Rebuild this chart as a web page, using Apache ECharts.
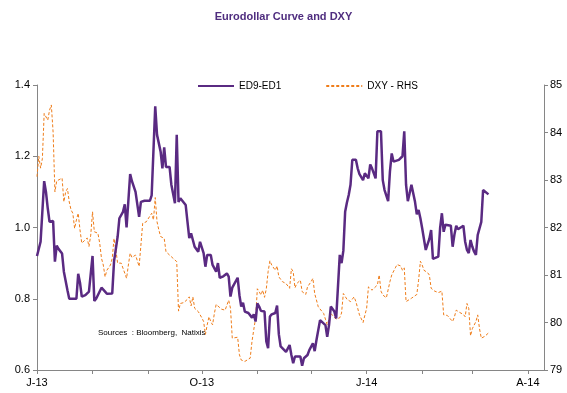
<!DOCTYPE html>
<html><head><meta charset="utf-8">
<script src="https://cdn.jsdelivr.net/npm/echarts@6/dist/echarts.min.js"></script>
<style>html,body{margin:0;padding:0;background:#fff}#c{width:567px;height:393px}</style>
</head><body><div id="c"></div>
<script>
// ED9-ED1 (left axis)
const edDates = ['2013-07-01','2013-07-02','2013-07-03','2013-07-04','2013-07-05','2013-07-06','2013-07-07','2013-07-08','2013-07-09','2013-07-10','2013-07-11','2013-07-12','2013-07-13','2013-07-15','2013-07-16','2013-07-18','2013-07-19','2013-07-21','2013-07-23','2013-07-24','2013-07-25','2013-07-26','2013-07-28','2013-07-30','2013-07-31',
'2013-08-01','2013-08-02','2013-08-03','2013-08-06','2013-08-08','2013-08-09','2013-08-12','2013-08-13','2013-08-14','2013-08-15','2013-08-16','2013-08-18','2013-08-19','2013-08-20','2013-08-22','2013-08-23','2013-08-25','2013-08-27','2013-08-28','2013-08-29','2013-08-30',
'2013-09-02','2013-09-03','2013-09-05','2013-09-06','2013-09-08','2013-09-09','2013-09-10','2013-09-11','2013-09-12','2013-09-13','2013-09-14','2013-09-16','2013-09-17','2013-09-18','2013-09-19','2013-09-20','2013-09-22','2013-09-23','2013-09-24','2013-09-25','2013-09-26','2013-09-27','2013-09-29','2013-09-30',
'2013-10-02','2013-10-03','2013-10-04','2013-10-06','2013-10-07','2013-10-08','2013-10-09','2013-10-10','2013-10-11','2013-10-13','2013-10-15','2013-10-16','2013-10-17','2013-10-18','2013-10-21','2013-10-22','2013-10-23','2013-10-24','2013-10-25','2013-10-27','2013-10-29','2013-10-30','2013-10-31',
'2013-11-01','2013-11-02','2013-11-03','2013-11-05','2013-11-06','2013-11-07','2013-11-08','2013-11-09','2013-11-11','2013-11-12','2013-11-13','2013-11-14','2013-11-15','2013-11-17','2013-11-18','2013-11-19','2013-11-20','2013-11-21','2013-11-22','2013-11-23','2013-11-25','2013-11-26','2013-11-27','2013-11-28','2013-11-29','2013-11-30',
'2013-12-02','2013-12-03','2013-12-04','2013-12-06','2013-12-07','2013-12-09','2013-12-10','2013-12-11','2013-12-12','2013-12-14','2013-12-15','2013-12-16','2013-12-17','2013-12-18','2013-12-19','2013-12-20','2013-12-21','2013-12-22','2013-12-23','2013-12-24','2013-12-26','2013-12-27','2013-12-28','2013-12-30','2013-12-31',
'2014-01-01','2014-01-02','2014-01-03','2014-01-04','2014-01-05','2014-01-06','2014-01-07','2014-01-09','2014-01-10','2014-01-11','2014-01-13','2014-01-14','2014-01-15','2014-01-16','2014-01-17','2014-01-19','2014-01-20','2014-01-21','2014-01-22','2014-01-23','2014-01-24','2014-01-25','2014-01-26','2014-01-28','2014-01-29','2014-01-30','2014-01-31',
'2014-02-01','2014-02-03','2014-02-04','2014-02-05','2014-02-06','2014-02-07','2014-02-08','2014-02-10','2014-02-11','2014-02-12','2014-02-13','2014-02-14','2014-02-15','2014-02-17','2014-02-18','2014-02-19','2014-02-20','2014-02-21','2014-02-22','2014-02-24','2014-02-25','2014-02-26','2014-02-27','2014-02-28',
'2014-03-01','2014-03-02','2014-03-03','2014-03-04','2014-03-05','2014-03-06','2014-03-07','2014-03-08','2014-03-10'];
const edValues = [0.92,0.925,0.96,0.963,1.13,1.10,1.054,1.016,1.013,1.018,0.904,0.949,0.94,0.927,0.876,0.824,0.80,0.80,0.80,0.87,0.845,0.806,0.81,0.82,0.824,
0.92,0.794,0.80,0.831,0.82,0.814,0.815,0.905,0.91,0.974,1.026,1.044,1.065,1.0,1.15,1.13,1.10,1.03,1.072,1.068,1.075,
1.075,1.09,1.34,1.26,1.213,1.166,1.225,1.17,1.175,1.17,1.12,1.068,1.26,1.072,1.082,1.08,1.063,1.016,0.97,0.984,0.965,0.946,0.932,0.96,
0.928,0.89,0.923,0.923,0.895,0.9,0.876,0.9,0.859,0.863,0.871,0.862,0.806,0.831,0.859,0.81,0.778,0.789,0.764,0.76,0.747,0.756,0.736,
0.787,0.778,0.766,0.764,0.68,0.661,0.75,0.756,0.76,0.781,0.70,0.666,0.666,0.651,0.647,0.67,0.642,0.619,0.638,0.638,0.638,0.612,0.633,0.633,0.642,0.656,
0.675,0.653,0.684,0.74,0.736,0.726,0.693,0.726,0.778,0.764,0.745,0.74,0.923,0.9,0.935,1.044,1.07,1.091,1.12,1.19,1.19,1.166,1.15,1.133,1.152,
1.152,1.138,1.177,1.166,1.152,1.138,1.27,1.27,1.133,1.105,1.074,1.157,1.208,1.185,1.19,1.19,1.19,1.20,1.27,1.12,1.074,1.096,1.12,1.072,1.037,1.049,1.026,
0.998,0.937,0.94,0.968,0.993,0.912,0.915,0.918,0.998,1.04,0.988,1.008,1.005,1.005,0.946,0.98,1.005,0.995,1.0,1.005,0.96,0.937,0.928,0.965,
0.946,0.932,0.923,0.979,0.984,1.016,1.105,1.103,1.093];

// DXY (right axis)
const dxyDates = ['2013-07-01','2013-07-02','2013-07-03','2013-07-04','2013-07-05','2013-07-06','2013-07-07','2013-07-08','2013-07-09','2013-07-10','2013-07-11','2013-07-12','2013-07-13','2013-07-15','2013-07-16','2013-07-17','2013-07-18','2013-07-19','2013-07-20','2013-07-21','2013-07-22','2013-07-23','2013-07-24','2013-07-25','2013-07-26','2013-07-27','2013-07-29','2013-07-30','2013-07-31',
'2013-08-01','2013-08-02','2013-08-03','2013-08-04','2013-08-05','2013-08-06','2013-08-07','2013-08-08','2013-08-09','2013-08-11','2013-08-12','2013-08-13','2013-08-14','2013-08-15','2013-08-17','2013-08-18','2013-08-20','2013-08-21','2013-08-22','2013-08-23','2013-08-24','2013-08-25','2013-08-27','2013-08-28','2013-08-29','2013-08-31',
'2013-09-01','2013-09-03','2013-09-04','2013-09-05','2013-09-06','2013-09-07','2013-09-08','2013-09-10','2013-09-11','2013-09-13','2013-09-14','2013-09-15','2013-09-17','2013-09-18','2013-09-19','2013-09-21','2013-09-23','2013-09-24','2013-09-25','2013-09-26','2013-09-27','2013-09-29','2013-09-30',
'2013-10-01','2013-10-02','2013-10-03','2013-10-04','2013-10-05','2013-10-06','2013-10-07','2013-10-08','2013-10-09','2013-10-10','2013-10-12','2013-10-13','2013-10-14','2013-10-15','2013-10-16','2013-10-17','2013-10-18','2013-10-19','2013-10-21','2013-10-22','2013-10-23','2013-10-25','2013-10-26','2013-10-28','2013-10-29','2013-10-30','2013-10-31',
'2013-11-01','2013-11-02','2013-11-03','2013-11-04','2013-11-05','2013-11-06','2013-11-07','2013-11-08','2013-11-09','2013-11-11','2013-11-12','2013-11-13','2013-11-14','2013-11-15','2013-11-17','2013-11-19','2013-11-20','2013-11-21','2013-11-22','2013-11-23','2013-11-25','2013-11-26','2013-11-27','2013-11-28','2013-11-29',
'2013-12-01','2013-12-02','2013-12-03','2013-12-04','2013-12-05','2013-12-06','2013-12-08','2013-12-09','2013-12-10','2013-12-11','2013-12-12','2013-12-13','2013-12-15','2013-12-16','2013-12-17','2013-12-18','2013-12-19','2013-12-20','2013-12-21','2013-12-23','2013-12-25','2013-12-26','2013-12-27','2013-12-28','2013-12-30','2013-12-31',
'2014-01-01','2014-01-02','2014-01-04','2014-01-05','2014-01-07','2014-01-08','2014-01-09','2014-01-10','2014-01-12','2014-01-14','2014-01-15','2014-01-16','2014-01-17','2014-01-18','2014-01-20','2014-01-21','2014-01-22','2014-01-23','2014-01-24','2014-01-26','2014-01-27','2014-01-29','2014-01-30','2014-01-31',
'2014-02-01','2014-02-02','2014-02-04','2014-02-05','2014-02-06','2014-02-08','2014-02-10','2014-02-12','2014-02-13','2014-02-15','2014-02-16','2014-02-18','2014-02-19','2014-02-20','2014-02-22','2014-02-24','2014-02-25','2014-02-26','2014-02-27','2014-02-28',
'2014-03-01','2014-03-03','2014-03-04','2014-03-05','2014-03-06','2014-03-08','2014-03-09','2014-03-10'];
const dxyValues = [83.07,83.5,83.25,83.45,84.4,84.37,84.26,84.47,84.58,84.0,82.75,82.98,83.0,83.04,82.54,82.75,82.82,82.54,82.37,82.3,81.98,82.16,82.3,81.95,81.67,81.67,81.78,81.6,81.84,
82.33,81.91,81.91,81.88,81.67,81.35,81.21,80.96,81.1,81.21,81.35,81.77,81.53,81.25,81.25,81.21,80.93,81.21,81.46,81.37,81.39,81.42,81.18,81.63,82.09,82.12,
82.1,82.3,82.16,82.63,82.12,81.95,81.81,81.77,81.49,81.42,81.42,81.35,81.28,80.24,80.4,80.42,80.49,80.54,80.35,80.54,80.3,80.23,80.19,
80.1,80.02,79.75,79.95,80.12,80.02,79.95,80.19,80.38,80.35,80.28,80.3,80.26,80.3,80.47,80.3,79.67,79.67,79.69,79.32,79.21,79.18,79.21,79.25,79.6,79.85,80.09,
80.71,80.65,80.58,80.68,80.53,80.71,81.07,81.3,81.21,81.1,81.19,80.96,81.0,80.86,80.82,80.72,81.13,81.07,80.73,80.82,80.89,80.65,80.68,80.59,80.75,
80.86,80.93,80.61,80.59,80.33,80.3,80.19,80.07,79.95,80.07,80.19,80.16,80.07,80.07,80.1,80.2,80.61,80.58,80.49,80.44,80.54,80.44,80.3,80.16,80.0,80.02,
80.3,80.75,80.68,80.65,80.79,81.0,80.66,80.58,80.52,80.86,81.0,80.96,81.15,81.22,81.19,81.1,81.15,80.44,80.45,80.51,80.54,80.59,80.89,81.29,
81.21,81.1,81.05,81.0,80.72,80.66,80.63,80.66,80.16,80.15,80.16,80.02,80.12,80.26,80.21,80.17,80.12,80.4,80.3,79.72,
79.87,80.02,80.16,79.87,79.67,79.71,79.74,79.78];

const seriesNames = ['ED9-ED1', 'DXY - RHS'];
const monthInitials = ['J','F','M','A','M','J','J','A','S','O','N','D'];
const labelMonths = [1, 4, 7, 10];
const axisStart = '2013-07-01';
const axisEnd = '2014-04-10';

const DAY = 86400000;
function toUTC(s){ const p = s.split('-').map(Number); return Date.UTC(p[0], p[1]-1, p[2]); }
const t0 = toUTC(axisStart), t1 = toUTC(axisEnd);
const categories = [];
for (let t = t0; t <= t1; t += DAY) categories.push(new Date(t).toISOString().slice(0,10));
const idx = s => Math.round((toUTC(s) - t0) / DAY);
const edData = edDates.map((s,i) => [idx(s), edValues[i]]);
const dxyData = dxyDates.map((s,i) => [idx(s), dxyValues[i]]);

const FONT = 'Liberation Sans, Arial, sans-serif';
const axisGray = '#868686';
const chart = echarts.init(document.getElementById('c'), null, {renderer:'canvas'});
chart.setOption({
  animation: false,
  backgroundColor: '#fff',
  title: {
    text: 'Eurodollar Curve and DXY', left: 'center', top: 6,
    textStyle: { fontFamily: FONT, fontSize: 11, fontWeight: 'bold', color: '#4f2d7f' }
  },
  legend: {
    data: seriesNames, left: 192, top: 76, itemWidth: 36, itemHeight: 10, itemGap: 44,
    itemStyle: { opacity: 0 },
    textStyle: { fontFamily: FONT, fontSize: 10, color: '#000' }
  },
  graphic: [{
    type: 'text', left: 98, top: 329,
    style: { text: 'Sources  : Bloomberg,  Natixis', font: '8px Liberation Sans, Arial, sans-serif', fill: '#000' }
  }],
  grid: { left: 37, right: 23, top: 85, bottom: 23, containLabel: false },
  xAxis: {
    type: 'category', data: categories, boundaryGap: false,
    axisLine: { lineStyle: { color: axisGray, width: 1 } },
    axisTick: { length: 4, lineStyle: { color: axisGray }, interval: (i, v) => v.slice(8) === '01' },
    axisLabel: {
      interval: (i, v) => v.slice(8) === '01' && labelMonths.includes(+v.slice(5,7)),
      formatter: v => monthInitials[+v.slice(5,7)-1] + '-' + v.slice(2,4),
      fontFamily: FONT, fontSize: 11, color: '#000', margin: 7
    },
    splitLine: { show: false }
  },
  yAxis: [{
    type: 'value', min: 0.6, max: 1.4, interval: 0.2, position: 'left',
    axisLine: { show: true, lineStyle: { color: axisGray } },
    axisTick: { show: true, length: 4, lineStyle: { color: axisGray } },
    axisLabel: { formatter: v => v.toFixed(1), fontFamily: FONT, fontSize: 11, color: '#000', margin: 7 },
    splitLine: { show: false }
  }, {
    type: 'value', min: 79, max: 85, interval: 1, position: 'right',
    axisLine: { show: true, lineStyle: { color: axisGray } },
    axisTick: { show: true, length: 4, lineStyle: { color: axisGray } },
    axisLabel: { fontFamily: FONT, fontSize: 11, color: '#000', margin: 6 },
    splitLine: { show: false }
  }],
  series: [{
    name: seriesNames[1], type: 'line', yAxisIndex: 1, data: dxyData, symbol: 'none',
    lineStyle: { color: '#ef7d1a', width: 1, type: [3, 2] }, itemStyle: { color: '#ef7d1a' }
  }, {
    name: seriesNames[0], type: 'line', yAxisIndex: 0, data: edData, symbol: 'none',
    lineStyle: { color: '#5a2a82', width: 2.5 }, itemStyle: { color: '#5a2a82' }
  }]
});
</script></body></html>
